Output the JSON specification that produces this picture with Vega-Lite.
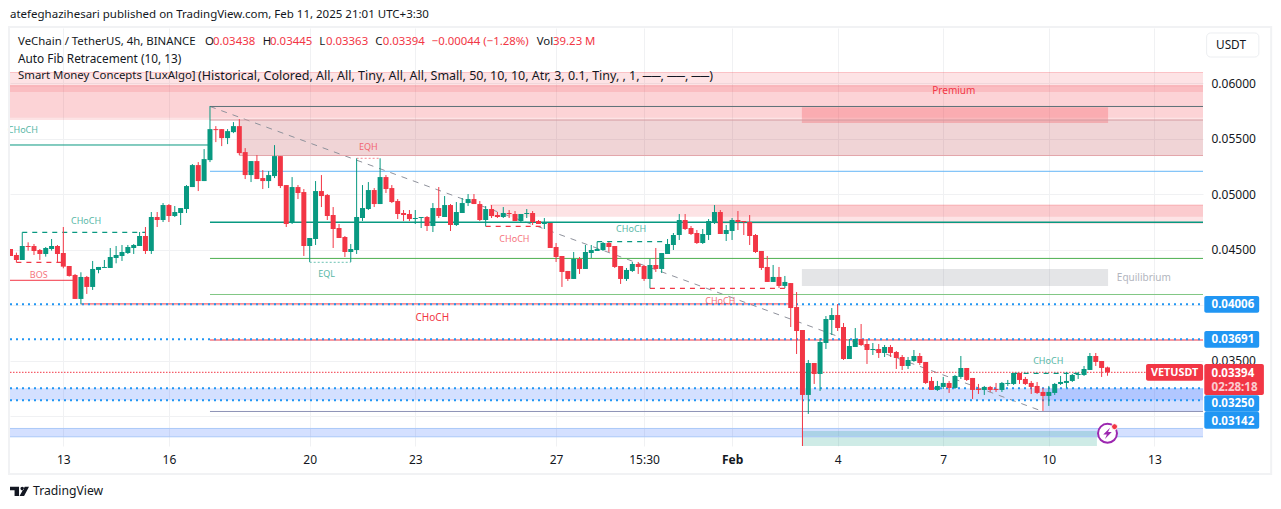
{
"$schema":"https://vega.github.io/schema/vega-lite/v6.json",
"width":1193,"height":418,
"autosize":{"type":"none"},
"padding":{"left":10,"top":28,"right":78,"bottom":63},
"background":"white",
"config":{"view":{"stroke":null},"font":"Noto Sans","axis":{"labelFont":"Noto Sans"}},
"datasets":{
"candles":[
{"bar":-9,"open":0.04505,"high":0.04505,"low":0.04442,"close":0.04442},
{"bar":-8,"open":0.04451,"high":0.04472,"low":0.04385,"close":0.04406},
{"bar":-7,"open":0.04406,"high":0.04655,"low":0.04406,"close":0.04532},
{"bar":-6,"open":0.04532,"high":0.04565,"low":0.04490,"close":0.04523},
{"bar":-5,"open":0.04532,"high":0.04550,"low":0.04451,"close":0.04487},
{"bar":-4,"open":0.04496,"high":0.04505,"low":0.04406,"close":0.04460},
{"bar":-3,"open":0.04460,"high":0.04523,"low":0.04436,"close":0.04514},
{"bar":-2,"open":0.04505,"high":0.04595,"low":0.04490,"close":0.04532},
{"bar":-1,"open":0.04532,"high":0.04541,"low":0.04388,"close":0.04460},
{"bar":0,"open":0.04469,"high":0.04703,"low":0.04331,"close":0.04346},
{"bar":1,"open":0.04352,"high":0.04352,"low":0.04256,"close":0.04262},
{"bar":2,"open":0.04271,"high":0.04280,"low":0.04055,"close":0.04055},
{"bar":3,"open":0.04055,"high":0.04295,"low":0.04006,"close":0.04253},
{"bar":4,"open":0.04253,"high":0.04262,"low":0.04100,"close":0.04163},
{"bar":5,"open":0.04163,"high":0.04397,"low":0.04136,"close":0.04325},
{"bar":6,"open":0.04316,"high":0.04343,"low":0.04286,"close":0.04343},
{"bar":7,"open":0.04334,"high":0.04406,"low":0.04334,"close":0.04343},
{"bar":8,"open":0.04334,"high":0.04514,"low":0.04334,"close":0.04433},
{"bar":9,"open":0.04424,"high":0.04532,"low":0.04376,"close":0.04451},
{"bar":10,"open":0.04442,"high":0.04541,"low":0.04397,"close":0.04478},
{"bar":11,"open":0.04469,"high":0.04541,"low":0.04460,"close":0.04523},
{"bar":12,"open":0.04514,"high":0.04550,"low":0.04460,"close":0.04541},
{"bar":13,"open":0.04532,"high":0.04658,"low":0.04532,"close":0.04622},
{"bar":14,"open":0.04622,"high":0.04703,"low":0.04460,"close":0.04487},
{"bar":15,"open":0.04487,"high":0.04838,"low":0.04460,"close":0.04793},
{"bar":16,"open":0.04793,"high":0.04838,"low":0.04703,"close":0.04766},
{"bar":17,"open":0.04766,"high":0.04919,"low":0.04748,"close":0.04901},
{"bar":18,"open":0.04901,"high":0.04910,"low":0.04748,"close":0.04802},
{"bar":19,"open":0.04802,"high":0.04892,"low":0.04793,"close":0.04838},
{"bar":20,"open":0.04829,"high":0.04874,"low":0.04721,"close":0.04874},
{"bar":21,"open":0.04865,"high":0.05081,"low":0.04829,"close":0.05072},
{"bar":22,"open":0.05063,"high":0.05270,"low":0.05063,"close":0.05261},
{"bar":23,"open":0.05261,"high":0.05288,"low":0.05027,"close":0.05117},
{"bar":24,"open":0.05117,"high":0.05405,"low":0.05117,"close":0.05315},
{"bar":25,"open":0.05306,"high":0.05792,"low":0.05288,"close":0.05585},
{"bar":26,"open":0.05585,"high":0.05612,"low":0.05468,"close":0.05576},
{"bar":27,"open":0.05585,"high":0.05585,"low":0.05432,"close":0.05504},
{"bar":28,"open":0.05504,"high":0.05585,"low":0.05450,"close":0.05567},
{"bar":29,"open":0.05558,"high":0.05648,"low":0.05549,"close":0.05612},
{"bar":30,"open":0.05612,"high":0.05675,"low":0.05351,"close":0.05369},
{"bar":31,"open":0.05378,"high":0.05414,"low":0.05135,"close":0.05171},
{"bar":32,"open":0.05171,"high":0.05297,"low":0.05108,"close":0.05297},
{"bar":33,"open":0.05297,"high":0.05351,"low":0.05135,"close":0.05135},
{"bar":34,"open":0.05144,"high":0.05216,"low":0.05045,"close":0.05117},
{"bar":35,"open":0.05117,"high":0.05207,"low":0.05054,"close":0.05171},
{"bar":36,"open":0.05162,"high":0.05441,"low":0.05144,"close":0.05342},
{"bar":37,"open":0.05342,"high":0.05342,"low":0.05054,"close":0.05072},
{"bar":38,"open":0.05081,"high":0.05081,"low":0.04703,"close":0.04730},
{"bar":39,"open":0.04739,"high":0.05153,"low":0.04730,"close":0.05063},
{"bar":40,"open":0.05063,"high":0.05081,"low":0.04955,"close":0.05009},
{"bar":41,"open":0.05018,"high":0.05045,"low":0.04442,"close":0.04532},
{"bar":42,"open":0.04532,"high":0.04604,"low":0.04388,"close":0.04604},
{"bar":43,"open":0.04595,"high":0.05117,"low":0.04541,"close":0.05027},
{"bar":44,"open":0.05027,"high":0.05171,"low":0.04883,"close":0.04982},
{"bar":45,"open":0.04991,"high":0.05000,"low":0.04766,"close":0.04802},
{"bar":46,"open":0.04811,"high":0.04883,"low":0.04514,"close":0.04685},
{"bar":47,"open":0.04694,"high":0.04730,"low":0.04604,"close":0.04604},
{"bar":48,"open":0.04613,"high":0.04622,"low":0.04433,"close":0.04478},
{"bar":49,"open":0.04478,"high":0.04550,"low":0.04388,"close":0.04505},
{"bar":50,"open":0.04496,"high":0.05322,"low":0.04460,"close":0.04793},
{"bar":51,"open":0.04784,"high":0.05081,"low":0.04757,"close":0.04874},
{"bar":52,"open":0.04865,"high":0.05108,"low":0.04856,"close":0.05036},
{"bar":53,"open":0.05036,"high":0.05054,"low":0.04883,"close":0.04910},
{"bar":54,"open":0.04910,"high":0.05322,"low":0.04910,"close":0.05153},
{"bar":55,"open":0.05153,"high":0.05171,"low":0.05009,"close":0.05045},
{"bar":56,"open":0.05054,"high":0.05081,"low":0.04919,"close":0.04928},
{"bar":57,"open":0.04937,"high":0.04955,"low":0.04775,"close":0.04820},
{"bar":58,"open":0.04829,"high":0.04856,"low":0.04757,"close":0.04811},
{"bar":59,"open":0.04820,"high":0.04856,"low":0.04757,"close":0.04775},
{"bar":60,"open":0.04775,"high":0.04856,"low":0.04730,"close":0.04784},
{"bar":61,"open":0.04784,"high":0.04793,"low":0.04694,"close":0.04793},
{"bar":62,"open":0.04793,"high":0.04802,"low":0.04667,"close":0.04712},
{"bar":63,"open":0.04712,"high":0.04919,"low":0.04658,"close":0.04874},
{"bar":64,"open":0.04874,"high":0.05063,"low":0.04784,"close":0.04802},
{"bar":65,"open":0.04793,"high":0.04982,"low":0.04793,"close":0.04901},
{"bar":66,"open":0.04901,"high":0.04910,"low":0.04667,"close":0.04721},
{"bar":67,"open":0.04721,"high":0.04928,"low":0.04712,"close":0.04838},
{"bar":68,"open":0.04829,"high":0.04964,"low":0.04829,"close":0.04919},
{"bar":69,"open":0.04919,"high":0.05000,"low":0.04892,"close":0.04955},
{"bar":70,"open":0.04955,"high":0.05000,"low":0.04910,"close":0.04910},
{"bar":71,"open":0.04910,"high":0.04937,"low":0.04757,"close":0.04766},
{"bar":72,"open":0.04766,"high":0.04892,"low":0.04709,"close":0.04865},
{"bar":73,"open":0.04865,"high":0.04901,"low":0.04784,"close":0.04802},
{"bar":74,"open":0.04811,"high":0.04838,"low":0.04784,"close":0.04793},
{"bar":75,"open":0.04793,"high":0.04883,"low":0.04784,"close":0.04829},
{"bar":76,"open":0.04829,"high":0.04856,"low":0.04784,"close":0.04820},
{"bar":77,"open":0.04820,"high":0.04847,"low":0.04757,"close":0.04757},
{"bar":78,"open":0.04757,"high":0.04820,"low":0.04739,"close":0.04820},
{"bar":79,"open":0.04820,"high":0.04865,"low":0.04784,"close":0.04829},
{"bar":80,"open":0.04829,"high":0.04847,"low":0.04721,"close":0.04748},
{"bar":81,"open":0.04757,"high":0.04766,"low":0.04730,"close":0.04730},
{"bar":82,"open":0.04730,"high":0.04784,"low":0.04685,"close":0.04739},
{"bar":83,"open":0.04739,"high":0.04739,"low":0.04514,"close":0.04514},
{"bar":84,"open":0.04523,"high":0.04559,"low":0.04388,"close":0.04433},
{"bar":85,"open":0.04442,"high":0.04442,"low":0.04163,"close":0.04298},
{"bar":86,"open":0.04307,"high":0.04307,"low":0.04217,"close":0.04235},
{"bar":87,"open":0.04235,"high":0.04478,"low":0.04235,"close":0.04415},
{"bar":88,"open":0.04415,"high":0.04433,"low":0.04280,"close":0.04325},
{"bar":89,"open":0.04325,"high":0.04541,"low":0.04325,"close":0.04478},
{"bar":90,"open":0.04469,"high":0.04541,"low":0.04424,"close":0.04496},
{"bar":91,"open":0.04487,"high":0.04571,"low":0.04487,"close":0.04505},
{"bar":92,"open":0.04496,"high":0.04568,"low":0.04487,"close":0.04559},
{"bar":93,"open":0.04559,"high":0.04568,"low":0.04478,"close":0.04523},
{"bar":94,"open":0.04532,"high":0.04532,"low":0.04334,"close":0.04343},
{"bar":95,"open":0.04352,"high":0.04352,"low":0.04190,"close":0.04235},
{"bar":96,"open":0.04235,"high":0.04334,"low":0.04217,"close":0.04316},
{"bar":97,"open":0.04307,"high":0.04388,"low":0.04298,"close":0.04370},
{"bar":98,"open":0.04370,"high":0.04388,"low":0.04280,"close":0.04343},
{"bar":99,"open":0.04352,"high":0.04361,"low":0.04217,"close":0.04235},
{"bar":100,"open":0.04235,"high":0.04415,"low":0.04151,"close":0.04361},
{"bar":101,"open":0.04361,"high":0.04514,"low":0.04298,"close":0.04325},
{"bar":102,"open":0.04325,"high":0.04469,"low":0.04289,"close":0.04469},
{"bar":103,"open":0.04460,"high":0.04595,"low":0.04460,"close":0.04550},
{"bar":104,"open":0.04541,"high":0.04649,"low":0.04496,"close":0.04631},
{"bar":105,"open":0.04631,"high":0.04820,"low":0.04586,"close":0.04766},
{"bar":106,"open":0.04766,"high":0.04820,"low":0.04676,"close":0.04685},
{"bar":107,"open":0.04694,"high":0.04712,"low":0.04631,"close":0.04640},
{"bar":108,"open":0.04649,"high":0.04676,"low":0.04550,"close":0.04559},
{"bar":109,"open":0.04559,"high":0.04685,"low":0.04550,"close":0.04640},
{"bar":110,"open":0.04631,"high":0.04775,"low":0.04586,"close":0.04757},
{"bar":111,"open":0.04739,"high":0.04901,"low":0.04730,"close":0.04838},
{"bar":112,"open":0.04838,"high":0.04856,"low":0.04640,"close":0.04640},
{"bar":113,"open":0.04640,"high":0.04721,"low":0.04577,"close":0.04676},
{"bar":114,"open":0.04667,"high":0.04784,"low":0.04586,"close":0.04766},
{"bar":115,"open":0.04766,"high":0.04847,"low":0.04676,"close":0.04748},
{"bar":116,"open":0.04757,"high":0.04757,"low":0.04631,"close":0.04748},
{"bar":117,"open":0.04748,"high":0.04811,"low":0.04541,"close":0.04622},
{"bar":118,"open":0.04631,"high":0.04640,"low":0.04469,"close":0.04478},
{"bar":119,"open":0.04487,"high":0.04487,"low":0.04316,"close":0.04334},
{"bar":120,"open":0.04343,"high":0.04442,"low":0.04208,"close":0.04208},
{"bar":121,"open":0.04208,"high":0.04361,"low":0.04208,"close":0.04253},
{"bar":122,"open":0.04253,"high":0.04343,"low":0.04154,"close":0.04172},
{"bar":123,"open":0.04172,"high":0.04262,"low":0.04154,"close":0.04208},
{"bar":124,"open":0.04198,"high":0.04198,"low":0.03802,"close":0.03973},
{"bar":125,"open":0.03982,"high":0.04117,"low":0.03559,"close":0.03766},
{"bar":126,"open":0.03775,"high":0.03775,"low":0.02730,"close":0.03190},
{"bar":127,"open":0.03190,"high":0.03505,"low":0.03019,"close":0.03478},
{"bar":128,"open":0.03478,"high":0.03478,"low":0.03289,"close":0.03379},
{"bar":129,"open":0.03379,"high":0.03703,"low":0.03226,"close":0.03667},
{"bar":130,"open":0.03658,"high":0.03901,"low":0.03604,"close":0.03874},
{"bar":131,"open":0.03865,"high":0.03973,"low":0.03730,"close":0.03910},
{"bar":132,"open":0.03910,"high":0.04009,"low":0.03766,"close":0.03793},
{"bar":133,"open":0.03802,"high":0.03838,"low":0.03505,"close":0.03514},
{"bar":134,"open":0.03514,"high":0.03694,"low":0.03514,"close":0.03631},
{"bar":135,"open":0.03622,"high":0.03793,"low":0.03622,"close":0.03694},
{"bar":136,"open":0.03694,"high":0.03829,"low":0.03631,"close":0.03640},
{"bar":137,"open":0.03649,"high":0.03694,"low":0.03469,"close":0.03595},
{"bar":138,"open":0.03595,"high":0.03658,"low":0.03550,"close":0.03604},
{"bar":139,"open":0.03604,"high":0.03649,"low":0.03523,"close":0.03568},
{"bar":140,"open":0.03568,"high":0.03640,"low":0.03532,"close":0.03622},
{"bar":141,"open":0.03622,"high":0.03640,"low":0.03532,"close":0.03568},
{"bar":142,"open":0.03577,"high":0.03586,"low":0.03424,"close":0.03523},
{"bar":143,"open":0.03532,"high":0.03550,"low":0.03415,"close":0.03451},
{"bar":144,"open":0.03451,"high":0.03532,"low":0.03424,"close":0.03505},
{"bar":145,"open":0.03496,"high":0.03595,"low":0.03487,"close":0.03541},
{"bar":146,"open":0.03541,"high":0.03568,"low":0.03460,"close":0.03478},
{"bar":147,"open":0.03487,"high":0.03487,"low":0.03289,"close":0.03298},
{"bar":148,"open":0.03316,"high":0.03352,"low":0.03235,"close":0.03235},
{"bar":149,"open":0.03235,"high":0.03316,"low":0.03226,"close":0.03271},
{"bar":150,"open":0.03262,"high":0.03352,"low":0.03244,"close":0.03298},
{"bar":151,"open":0.03298,"high":0.03316,"low":0.03208,"close":0.03253},
{"bar":152,"open":0.03253,"high":0.03370,"low":0.03244,"close":0.03361},
{"bar":153,"open":0.03352,"high":0.03541,"low":0.03334,"close":0.03433},
{"bar":154,"open":0.03433,"high":0.03433,"low":0.03316,"close":0.03325},
{"bar":155,"open":0.03343,"high":0.03343,"low":0.03154,"close":0.03235},
{"bar":156,"open":0.03244,"high":0.03289,"low":0.03199,"close":0.03235},
{"bar":157,"open":0.03235,"high":0.03271,"low":0.03190,"close":0.03262},
{"bar":158,"open":0.03262,"high":0.03271,"low":0.03217,"close":0.03235},
{"bar":159,"open":0.03244,"high":0.03298,"low":0.03217,"close":0.03235},
{"bar":160,"open":0.03235,"high":0.03307,"low":0.03217,"close":0.03298},
{"bar":161,"open":0.03289,"high":0.03325,"low":0.03271,"close":0.03298},
{"bar":162,"open":0.03289,"high":0.03388,"low":0.03280,"close":0.03388},
{"bar":163,"open":0.03388,"high":0.03388,"low":0.03289,"close":0.03325},
{"bar":164,"open":0.03334,"high":0.03352,"low":0.03280,"close":0.03289},
{"bar":165,"open":0.03298,"high":0.03316,"low":0.03199,"close":0.03262},
{"bar":166,"open":0.03271,"high":0.03307,"low":0.03199,"close":0.03208},
{"bar":167,"open":0.03217,"high":0.03253,"low":0.03046,"close":0.03181},
{"bar":168,"open":0.03181,"high":0.03271,"low":0.03091,"close":0.03217},
{"bar":169,"open":0.03208,"high":0.03298,"low":0.03190,"close":0.03289},
{"bar":170,"open":0.03289,"high":0.03361,"low":0.03280,"close":0.03307},
{"bar":171,"open":0.03298,"high":0.03397,"low":0.03253,"close":0.03316},
{"bar":172,"open":0.03316,"high":0.03379,"low":0.03307,"close":0.03370},
{"bar":173,"open":0.03370,"high":0.03397,"low":0.03334,"close":0.03379},
{"bar":174,"open":0.03370,"high":0.03451,"low":0.03361,"close":0.03424},
{"bar":175,"open":0.03415,"high":0.03568,"low":0.03415,"close":0.03541},
{"bar":176,"open":0.03541,"high":0.03568,"low":0.03451,"close":0.03487},
{"bar":177,"open":0.03496,"high":0.03496,"low":0.03352,"close":0.03433},
{"bar":178,"open":0.03438,"high":0.03445,"low":0.03363,"close":0.03394}
],
"zones":[
{"bar":-9.09,"bar2":194.28,"price":0.06095,"price2":0.05919,"kind":"premium"},
{"bar":-9.09,"bar2":194.28,"price":0.05976,"price2":0.05688,"kind":"premiumCore"},
{"bar":-9.09,"bar2":194.28,"price":0.05688,"price2":0.05667,"kind":"premium"},
{"bar":30,"bar2":194.28,"price":0.05667,"price2":0.05347,"kind":"dusty"},
{"bar":125.9,"bar2":178.1,"price":0.05781,"price2":0.0564,"kind":"block"},
{"bar":72.75,"bar2":194.28,"price":0.04901,"price2":0.04796,"kind":"premium"},
{"bar":111,"bar2":194.28,"price":0.04901,"price2":0.0473,"kind":"premium"},
{"bar":125.9,"bar2":178.1,"price":0.04325,"price2":0.04171,"kind":"gray"},
{"bar":-9.09,"bar2":194.28,"price":0.0325,"price2":0.03142,"kind":"demand"},
{"bar":167.2,"bar2":194.28,"price":0.0325,"price2":0.03041,"kind":"demand"},
{"bar":-9.09,"bar2":194.28,"price":0.02888,"price2":0.02813,"kind":"demand"},
{"bar":125.9,"bar2":176.2,"price":0.02865,"price2":0.0273,"kind":"discount"}
],
"levels":[
{"bar":25,"bar2":194.28,"price":0.05789,"kind":"fibTop"},
{"bar":25,"bar2":194.28,"price":0.05667,"kind":"fibPink"},
{"bar":-9.09,"bar2":25,"price":0.05442,"kind":"choch"},
{"bar":25,"bar2":194.28,"price":0.05205,"kind":"fibBlue"},
{"bar":25,"bar2":194.28,"price":0.0442,"kind":"fibGreen"},
{"bar":25,"bar2":194.28,"price":0.04095,"kind":"fibLight"},
{"bar":3,"bar2":124,"price":0.0401,"kind":"bear"},
{"bar":25,"bar2":194.28,"price":0.03685,"kind":"bear"},
{"bar":-9.09,"bar2":2,"price":0.04223,"kind":"bear"},
{"bar":25,"bar2":194.28,"price":0.03041,"kind":"fibLow"},
{"bar":-9.09,"bar2":194.28,"price":0.06095,"kind":"edgePink"},
{"bar":-9.09,"bar2":194.28,"price":0.05976,"kind":"edgePink"},
{"bar":30,"bar2":194.28,"price":0.05347,"kind":"edgeDusty"},
{"bar":72.75,"bar2":194.28,"price":0.04901,"kind":"edgePink"},
{"bar":-9.09,"bar2":194.28,"price":0.02888,"kind":"edgeBlue"},
{"bar":-9.09,"bar2":194.28,"price":0.02813,"kind":"edgeBlue"}
],
"mid":[{"bar":25,"bar2":194.28,"price":0.04745}],
"trend":[{"bar":25,"price":0.05789},{"bar":167,"price":0.03041}],
"dotted":[
{"bar":-9.09,"bar2":194.28,"price":0.04006},
{"bar":-9.09,"bar2":194.28,"price":0.03691},
{"bar":-9.09,"bar2":194.28,"price":0.0325},
{"bar":-9.09,"bar2":194.28,"price":0.03142}
],
"last":[{"bar":-9.09,"bar2":184.6,"price":0.03394}],
"dashed":[
{"bar":-8,"bar2":0,"price":0.04385,"side":"down"},
{"bar":-7,"bar2":14,"price":0.04655,"side":"up"},
{"bar":72,"bar2":82,"price":0.04709,"side":"down"},
{"bar":91,"bar2":103,"price":0.04571,"side":"up"},
{"bar":100,"bar2":123,"price":0.04151,"side":"down"},
{"bar":162,"bar2":174,"price":0.03385,"side":"up"}
],
"equal":[
{"bar":42,"bar2":49,"price":0.04385,"side":"up"},
{"bar":50,"bar2":54,"price":0.05322,"side":"down"}
],
"tags":[
{"bar":3.87,"price":0.0476,"label":"CHoCH","side":"up"},
{"bar":-6.9,"price":0.0558,"label":"CHoCH","side":"up"},
{"bar":-4.2,"price":0.04274,"label":"BOS","side":"down"},
{"bar":52,"price":0.05427,"label":"EQH","side":"down"},
{"bar":44.9,"price":0.04282,"label":"EQL","side":"up"},
{"bar":76.9,"price":0.04598,"label":"CHoCH","side":"down"},
{"bar":96.8,"price":0.04688,"label":"CHoCH","side":"up"},
{"bar":112,"price":0.04039,"label":"CHoCH","side":"down"},
{"bar":167.9,"price":0.03499,"label":"CHoCH","side":"up"}
],
"notes":[
{"bar":62.9,"price":0.03883,"label":"CHoCH","tone":"red"},
{"bar":151.8,"price":0.05931,"label":"Premium","tone":"red"},
{"bar":184.2,"price":0.04244,"label":"Equilibrium","tone":"gray"}
],
"headline":[
{"bar":-9.09,"price":0.06622,"label":"atefeghazihesari published on TradingView.com, Feb 11, 2025 21:01 UTC+3:30"}
],
"quote":[
{"bar":-7.72,"price":0.0637,"label":"VeChain / TetherUS, 4h, BINANCE","tone":"dark"},
{"bar":24.16,"price":0.0637,"label":"O","tone":"dark"},
{"bar":25.52,"price":0.0637,"label":"0.03438","tone":"red"},
{"bar":33.99,"price":0.0637,"label":"H","tone":"dark"},
{"bar":35.24,"price":0.0637,"label":"0.03445","tone":"red"},
{"bar":43.64,"price":0.0637,"label":"L","tone":"dark"},
{"bar":44.78,"price":0.0637,"label":"0.03363","tone":"red"},
{"bar":53.19,"price":0.0637,"label":"C","tone":"dark"},
{"bar":54.45,"price":0.0637,"label":"0.03394","tone":"red"},
{"bar":62.8,"price":0.0637,"label":"−0.00044 (−1.28%)","tone":"red"},
{"bar":80.7,"price":0.0637,"label":"Vol","tone":"dark"},
{"bar":83.48,"price":0.0637,"label":"39.23 M","tone":"red"},
{"bar":-7.72,"price":0.06063,"label":"Smart Money Concepts [LuxAlgo]","tone":"dark"}
],
"header":[
{"bar":-7.72,"price":0.062165,"label":"Auto Fib Retracement (10, 13)"},
{"bar":196.5,"price":0.06343,"label":"USDT"}
],
"params":[
{"bar":22.96,"price":0.06063,"label":"(Historical, Colored, All, All, Tiny, All, All, Small, 50, 10, 10, Atr, 3, 0.1, Tiny, , 1, ──, ──, ──)"}
],
"frame":[{"bar":-9.26,"bar2":205.9,"price":0.06505,"price2":0.02478}],
"unit":[{"bar":194.9,"bar2":203.8,"price":0.06451,"price2":0.062345}],
"boxes":[
{"bar":194.5,"bar2":203.86,"price":0.04081,"price2":0.03931,"kind":"blue"},
{"bar":194.5,"bar2":203.86,"price":0.03766,"price2":0.03615,"kind":"blue"},
{"bar":194.5,"bar2":203.86,"price":0.03187,"price2":0.03039,"kind":"blue"},
{"bar":194.5,"bar2":203.86,"price":0.03039,"price2":0.02886,"kind":"blue"},
{"bar":194.5,"bar2":204.66,"price":0.03469,"price2":0.03189,"kind":"red"},
{"bar":184.57,"bar2":194.3,"price":0.03469,"price2":0.03318,"kind":"red"}
],
"boxText":[
{"bar":195.74,"price":0.04009,"label":"0.04006"},
{"bar":195.74,"price":0.03691,"label":"0.03691"},
{"bar":195.74,"price":0.0339,"label":"0.03394"},
{"bar":195.74,"price":0.03115,"label":"0.03250"},
{"bar":195.74,"price":0.02958,"label":"0.03142"}
],
"countdown":[{"bar":195.74,"price":0.03264,"label":"02:28:18"}],
"symbol":[{"bar":189.45,"price":0.03392,"label":"VETUSDT"}],
"brand":[{"bar":-5.17,"price":0.02322,"label":"TradingView"}],
"logo":[{"bar":-7.47,"price":0.02322}],
"badge":[{"bar":178,"price":0.02844}],
"badgeDot":[{"bar":179.2,"price":0.02904}]
},
"encoding":{
"x":{"field":"bar","type":"quantitative","title":null,
 "scale":{"domain":[-9.09,194.28],"nice":false,"zero":false,"padding":0},
 "axis":{"values":[0,18,42,60,84,99,114,132,150,168,186],
  "labelExpr":"{'0':'13','18':'16','42':'20','60':'23','84':'27','99':'15:30','114':'Feb','132':'4','150':'7','168':'10','186':'13'}[''+datum.value]",
  "grid":true,"gridColor":"#f0f1f3","gridWidth":1,"domain":false,"ticks":false,"labelPadding":8,"labelFontSize":12,"labelColor":"#131722","labelOverlap":false,"labelBound":false,"labelFlush":false,
  "labelFontWeight":{"condition":{"test":"datum.value==114","value":"bold"},"value":"normal"}}},
"y":{"field":"price","type":"quantitative","title":null,
 "scale":{"domain":[0.0273,0.06496],"nice":false,"zero":false},
 "axis":{"orient":"right","values":[0.03,0.035,0.04,0.045,0.05,0.055,0.06],"format":".5f",
  "grid":true,"gridColor":"#f0f1f3","gridWidth":1,"domain":false,"ticks":false,"labelPadding":8,"labelFontSize":12,"labelColor":"#131722","labelOverlap":false,"labelBound":false,"labelFlush":false}}
},
"resolve":{"scale":{"color":"independent"}},
"layer":[
{"data":{"name":"zones"},"mark":{"type":"rect"},"encoding":{"x2":{"field":"bar2"},"y2":{"field":"price2"},
 "color":{"field":"kind","type":"nominal","legend":null,"scale":{"domain":["premium","premiumCore","dusty","block","gray","demand","discount"],"range":["rgba(242,54,69,0.14)","rgba(242,54,69,0.22)","rgba(178,40,51,0.2)","rgba(242,54,69,0.25)","rgba(120,123,134,0.2)","rgba(41,98,255,0.2)","rgba(8,153,129,0.2)"]}}}},
{"data":{"name":"trend"},"mark":{"type":"line","color":"#8f929c","strokeWidth":1,"strokeDash":[6,6]}},
{"data":{"name":"levels"},"mark":{"type":"rule","strokeWidth":1},"encoding":{"x2":{"field":"bar2"},
 "color":{"field":"kind","type":"nominal","legend":null,"scale":{"domain":["fibTop","fibPink","choch","fibBlue","fibGreen","fibLight","bear","fibLow","edgePink","edgeDusty","edgeBlue"],"range":["#5d7178","#d39aa0","#089981","#64b5f6","#4caf50","#81c784","#f23645","#8d93b5","rgba(242,54,69,0.25)","#e3a5aa","#abc8f8"]}}}},
{"data":{"name":"mid"},"mark":{"type":"rule","strokeWidth":1.5,"color":"#089981"},"encoding":{"x2":{"field":"bar2"}}},
{"data":{"name":"last"},"mark":{"type":"rule","strokeWidth":1,"color":"#f23645","strokeDash":[1.5,1.5]},"encoding":{"x2":{"field":"bar2"}}},
{"data":{"name":"dotted"},"mark":{"type":"rule","strokeWidth":2,"color":"#2196f3","strokeDash":[2,4]},"encoding":{"x2":{"field":"bar2"}}},
{"data":{"name":"dashed"},"mark":{"type":"rule","strokeWidth":1.2,"strokeDash":[5,5]},"encoding":{"x2":{"field":"bar2"},
 "color":{"field":"side","type":"nominal","legend":null,"scale":{"domain":["up","down"],"range":["#089981","#f23645"]}}}},
{"data":{"name":"equal"},"mark":{"type":"rule","strokeWidth":1,"strokeDash":[2,2],"opacity":0.6},"encoding":{"x2":{"field":"bar2"},
 "color":{"field":"side","type":"nominal","legend":null,"scale":{"domain":["up","down"],"range":["#089981","#f23645"]}}}},
{"data":{"name":"candles"},"mark":{"type":"rule","strokeWidth":1},"encoding":{
 "y":{"field":"low","type":"quantitative","title":null,"scale":{"domain":[0.0273,0.06496],"nice":false,"zero":false},
  "axis":{"orient":"right","values":[0.03,0.035,0.04,0.045,0.05,0.055,0.06],"format":".5f","grid":true,"gridColor":"#f0f1f3","gridWidth":1,"domain":false,"ticks":false,"labelPadding":8,"labelFontSize":12,"labelColor":"#131722","labelOverlap":false,"labelBound":false,"labelFlush":false}},"y2":{"field":"high"},
 "color":{"condition":{"test":"datum.close>=datum.open","value":"#089981"},"value":"#f23645"}}},
{"data":{"name":"candles"},"mark":{"type":"bar","size":5},"encoding":{
 "y":{"field":"open","type":"quantitative","title":null,"scale":{"domain":[0.0273,0.06496],"nice":false,"zero":false},
  "axis":{"orient":"right","values":[0.03,0.035,0.04,0.045,0.05,0.055,0.06],"format":".5f","grid":true,"gridColor":"#f0f1f3","gridWidth":1,"domain":false,"ticks":false,"labelPadding":8,"labelFontSize":12,"labelColor":"#131722","labelOverlap":false,"labelBound":false,"labelFlush":false}},"y2":{"field":"close"},
 "color":{"condition":{"test":"datum.close>=datum.open","value":"#089981"},"value":"#f23645"}}},
{"data":{"name":"tags"},"mark":{"type":"text","fontSize":9,"opacity":0.7,"align":"center","baseline":"middle"},"encoding":{"text":{"field":"label"},
 "color":{"field":"side","type":"nominal","legend":null,"scale":{"domain":["up","down"],"range":["#089981","#f23645"]}}}},
{"data":{"name":"notes"},"mark":{"type":"text","fontSize":10,"align":"center","baseline":"middle"},"encoding":{"text":{"field":"label"},
 "color":{"field":"tone","type":"nominal","legend":null,"scale":{"domain":["red","gray"],"range":["#f23645","#b2b5be"]}}}},
{"data":{"name":"frame"},"mark":{"type":"rect","fillOpacity":0,"stroke":"#f1f2f4","strokeWidth":2},"encoding":{"x2":{"field":"bar2"},"y2":{"field":"price2"}}},
{"data":{"name":"unit"},"mark":{"type":"rect","fillOpacity":0,"stroke":"#eceef1","strokeWidth":1,"cornerRadius":4},"encoding":{"x2":{"field":"bar2"},"y2":{"field":"price2"}}},
{"data":{"name":"headline"},"mark":{"type":"text","fontSize":11.5,"dy":1,"color":"#131722","align":"left","baseline":"middle"},"encoding":{"text":{"field":"label"}}},
{"data":{"name":"quote"},"mark":{"type":"text","fontSize":11.4,"align":"left","baseline":"middle"},"encoding":{"text":{"field":"label"},
 "color":{"field":"tone","type":"nominal","legend":null,"scale":{"domain":["dark","red"],"range":["#131722","#f23645"]}}}},
{"data":{"name":"header"},"mark":{"type":"text","fontSize":11.8,"color":"#131722","align":"left","baseline":"middle"},"encoding":{"text":{"field":"label"}}},
{"data":{"name":"params"},"mark":{"type":"text","fontSize":12.5,"color":"#131722","align":"left","baseline":"middle"},"encoding":{"text":{"field":"label"}}},
{"data":{"name":"boxes"},"mark":{"type":"rect","cornerRadius":2},"encoding":{"x2":{"field":"bar2"},"y2":{"field":"price2"},
 "color":{"field":"kind","type":"nominal","legend":null,"scale":{"domain":["blue","red"],"range":["#2196f3","#f23645"]}}}},
{"data":{"name":"boxText"},"mark":{"type":"text","fontSize":11.5,"dy":1,"fontWeight":"bold","color":"white","align":"left","baseline":"middle"},"encoding":{"text":{"field":"label"}}},
{"data":{"name":"countdown"},"mark":{"type":"text","fontSize":11.5,"dy":1,"color":"white","opacity":0.75,"fontWeight":"bold","align":"left","baseline":"middle"},"encoding":{"text":{"field":"label"}}},
{"data":{"name":"symbol"},"mark":{"type":"text","fontSize":10.8,"fontWeight":"bold","color":"white","align":"center","baseline":"middle"},"encoding":{"text":{"field":"label"}}},
{"data":{"name":"brand"},"mark":{"type":"text","fontSize":12.2,"color":"#131722","align":"left","baseline":"middle"},"encoding":{"text":{"field":"label"}}},
{"data":{"name":"logo"},"mark":{"type":"point","filled":true,"opacity":1,"color":"#131722","size":361,"shape":"M-1,-0.49 H-0.05 V0.49 H-0.52 V-0.1 H-1 Z M0.1,-0.3 a0.19,0.19 0 1 0 0.38,0 a0.19,0.19 0 1 0 -0.38,0 Z M0.55,-0.49 L1,-0.49 L0.48,0.49 L0,0.49 Z"}},
{"data":{"name":"badge"},"mark":{"type":"point","shape":"circle","filled":true,"opacity":1,"color":"white","stroke":"#9c27b0","strokeWidth":2,"size":360}},
{"data":{"name":"badge"},"mark":{"type":"point","filled":true,"opacity":1,"color":"#9c27b0","size":130,"shape":"M0.45,-1 L-0.75,0.2 L-0.1,0.2 L-0.45,1 L0.75,-0.25 L0.1,-0.25 Z"}},
{"data":{"name":"badgeDot"},"mark":{"type":"point","shape":"circle","filled":true,"opacity":1,"color":"#f23645","stroke":"white","strokeWidth":1,"size":36}}
]
}
